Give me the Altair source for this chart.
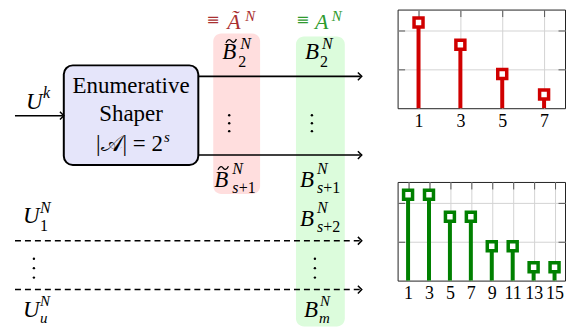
import altair as alt
import pandas as pd

# ---------------- data ----------------
top_amplitudes = [1, 3, 5, 7]
top_probs = [0.220, 0.163, 0.088, 0.035]
top_grid = [0.1, 0.2]

bottom_amplitudes = [1, 3, 5, 7, 9, 11, 13, 15]
bottom_probs = [0.110, 0.110, 0.082, 0.082, 0.044, 0.044, 0.017, 0.017]
bottom_grid = [0.05, 0.1]

SERIF = "Liberation Serif"
RED = "#d00000"
GREEN = "#008000"
RED_LBL = "#a93030"
GREEN_LBL = "#2e9a2e"

# ---------------- diagram panel (page-pixel coordinates) ----------------
DX = [8, 383]
DY = [8, 329]
W = DX[1] - DX[0]
H = DY[1] - DY[0]


def X(f="x"):
    return alt.X(f"{f}:Q", scale=alt.Scale(domain=DX, nice=False, zero=False), axis=None)


def Y(f="y"):
    return alt.Y(f"{f}:Q", scale=alt.Scale(domain=DY, nice=False, zero=False, reverse=True), axis=None)


bands = pd.DataFrame({"x": [213, 296], "x2": [260, 345], "y": [32, 35], "y2": [193, 326],
                      "c": ["#ffdede", "#dcfcdc"]})
band_layer = alt.Chart(bands).mark_rect(cornerRadius=8, clip=True).encode(
    x=X(), x2="x2:Q", y=Y(), y2="y2:Q", color=alt.Color("c:N", scale=None))

box = pd.DataFrame({"x": [63], "x2": [198], "y": [64], "y2": [164]})
box_layer = alt.Chart(box).mark_rect(cornerRadius=9, fill="#e5e5fa", stroke="black", strokeWidth=2,
                                     clip=True).encode(x=X(), x2="x2:Q", y=Y(), y2="y2:Q")

solid = pd.DataFrame({"x": [14, 198, 198], "x2": [62, 361, 361], "y": [114.5, 75, 154]})
solid_layer = alt.Chart(solid).mark_rule(strokeWidth=1.6, color="black", clip=True).encode(
    x=X(), x2="x2:Q", y=Y())

dashed = pd.DataFrame({"x": [14, 14], "x2": [361, 361], "y": [240, 289]})
dashed_layer = alt.Chart(dashed).mark_rule(strokeWidth=1.6, color="black", strokeDash=[6, 4],
                                           clip=True).encode(x=X(), x2="x2:Q", y=Y())

heads = pd.DataFrame({"x": [63, 362, 362, 362, 362], "y": [114.5, 75, 154, 240, 289]})
head_layer = alt.Chart(heads).mark_point(shape="M-1,-1L0,0L-1,1", size=60, filled=False,
                                         stroke="black", strokeWidth=1.5, opacity=1,
                                         clip=True).encode(x=X(), y=Y())

# accent tildes over the B letters (drawn as small strokes)
accents = pd.DataFrame({"x": [231, 223], "y": [39.5, 167]})
accent_layer = alt.Chart(accents).mark_point(
    shape="M-1,0.35C-0.6,-0.45 -0.25,-0.35 0,0C0.25,0.35 0.6,0.45 1,-0.35",
    size=110, filled=False, stroke="black", strokeWidth=1.3, opacity=1, clip=True,
).encode(x=X(), y=Y())

dots = pd.DataFrame({
    "x": [229] * 3 + [312] * 3 + [33] * 3 + [315] * 3,
    "y": [114, 122, 130] * 2 + [258, 267.5, 277] * 2,
})
dot_layer = alt.Chart(dots).mark_circle(size=6, color="black", opacity=1, clip=True).encode(
    x=X(), y=Y())


def text_layer(rows, italic=False, align="left", font=SERIF):
    df = pd.DataFrame(rows, columns=["t", "x", "y", "s", "c"])
    return alt.Chart(df).mark_text(font=font, fontStyle="italic" if italic else "normal",
                                   align=align, baseline="alphabetic", clip=True).encode(
        x=X(), y=Y(), text="t:N", size=alt.Size("s:Q", scale=None), color=alt.Color("c:N", scale=None))


K = "black"
BIG = 23
SM = 16
ital_big = text_layer([
    ["U", 25, 108, BIG, K],
    ["Ã", 227, 27, 22, RED_LBL],
    ["A", 315, 27, 22, GREEN_LBL],
    ["B", 222, 58, BIG, K],
    ["B", 305, 58, BIG, K],
    ["B", 214, 186, BIG, K],
    ["B", 300, 186, BIG, K],
    ["B", 300, 225, BIG, K],
    ["B", 304, 317, BIG, K],
    ["U", 22, 222, BIG, K],
    ["U", 22, 317, BIG, K],
], italic=True)

ital_small = text_layer([
    ["k", 42, 97, SM, K],
    ["N", 245, 19, 15, RED_LBL],
    ["N", 332, 19, 15, GREEN_LBL],
    ["N", 240, 47.5, SM, K],
    ["N", 322, 47.5, SM, K],
    ["N", 232, 173, SM, K],
    ["s", 232, 192, SM, K],
    ["N", 317, 173, SM, K],
    ["s", 317, 192, SM, K],
    ["N", 317, 212, SM, K],
    ["s", 317, 231, SM, K],
    ["N", 320, 305.5, 15, K],
    ["m", 319, 322.5, 15, K],
    ["N", 39, 212, SM, K],
    ["N", 39, 305.5, 15, K],
    ["u", 39, 322.5, 15, K],
    ["s", 163.5, 141, 15, K],
], italic=True)

up_small = text_layer([
    ["2", 238, 66, SM, K],
    ["2", 320, 66, SM, K],
    ["+1", 238.5, 192, SM, K],
    ["+1", 323.5, 192, SM, K],
    ["+2", 323.5, 231, SM, K],
    ["1", 39, 230, SM, K],
])

up_big = text_layer([
    ["≡", 206, 23.5, 16, RED_LBL],
    ["≡", 296, 23.5, 16, GREEN_LBL],
], font="DejaVu Serif")

box_text = text_layer([
    ["Enumerative", 130.5, 92, 23, K],
    ["Shaper", 130.5, 120, 23, K],
], align="center")

box_formula = text_layer([
    ["|𝒜| = 2", 162.5, 150, 23, K],
], align="right")

diagram = alt.layer(
    band_layer, box_layer, solid_layer, dashed_layer, head_layer, accent_layer, dot_layer,
    ital_big, ital_small, up_small, up_big, box_text, box_formula,
).properties(width=W, height=H, view=alt.ViewBackground(stroke="transparent"))


# ---------------- stem plots ----------------
def stem_chart(xs, ps, color, xdom, ydom, xvals, yvals):
    df = pd.DataFrame({"a": xs, "p": ps})
    xsc = alt.Scale(domain=xdom, nice=False, zero=False)
    ysc = alt.Scale(domain=ydom, nice=False, zero=False)
    tick_common = dict(title=None, labels=False, domain=False, ticks=True, tickSize=7,
                       tickColor="#555555", tickWidth=1, offset=-7)
    stems = alt.Chart(df).mark_rule(color=color, strokeWidth=4).encode(
        x=alt.X("a:Q", scale=xsc, axis=alt.Axis(
            orient="bottom", values=xvals, title=None, ticks=False, domain=False, grid=True,
            gridColor="#d3d3d3", labelFont=SERIF, labelFontSize=18, labelColor="black",
            labelPadding=4, labelFlush=False, labelOverlap=False)),
        y=alt.Y("p:Q", scale=ysc, axis=alt.Axis(
            orient="left", values=yvals, grid=True, gridColor="#d3d3d3", **tick_common)),
        y2=alt.datum(0),
    )
    marks = alt.Chart(df).mark_square(size=81, fill="white", stroke=color, strokeWidth=3.5,
                                      opacity=1).encode(
        x=alt.X("a:Q", scale=xsc, axis=alt.Axis(orient="top", values=xvals, grid=False, **tick_common)),
        y=alt.Y("p:Q", scale=ysc, axis=alt.Axis(orient="right", values=yvals, grid=False, **tick_common)),
    )
    return alt.layer(stems, marks).resolve_axis(x="independent", y="independent").properties(
        width=168, height=99, view=alt.ViewBackground(stroke="#222222", strokeWidth=1))


top = stem_chart(top_amplitudes, top_probs, RED, [0, 8], [0, 0.253], top_amplitudes, top_grid)
bottom = stem_chart(bottom_amplitudes, bottom_probs, GREEN, [0, 16], [0, 0.1265],
                    bottom_amplitudes, bottom_grid)

right = alt.vconcat(top, bottom, spacing=74, bounds="flush")
chart = alt.hconcat(diagram, right, spacing=15, bounds="flush").properties(padding=0)

chart.save("out.html", embed_options={"renderer": "svg", "actions": False})
